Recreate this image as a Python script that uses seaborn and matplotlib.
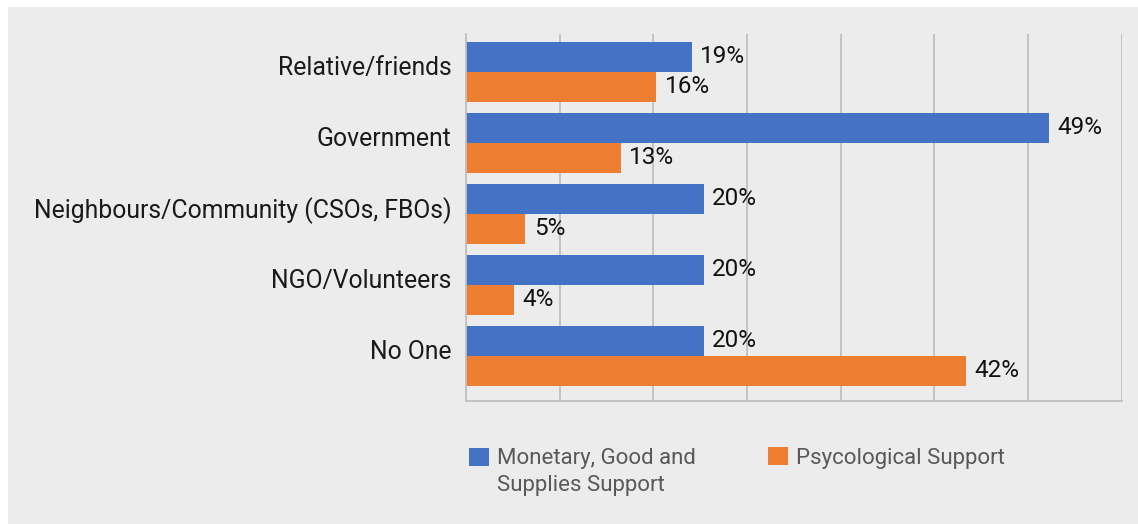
import matplotlib
matplotlib.use("Agg")
import matplotlib.pyplot as plt
import matplotlib.patches as mpatches
import matplotlib.transforms as mtransforms
from matplotlib.legend_handler import HandlerPatch
import numpy as np
import pandas as pd
import seaborn as sns

# Who people turned to for help, by type of support (% of respondents)
sources = ["Relative/friends", "Government", "Neighbours/Community (CSOs, FBOs)",
           "NGO/Volunteers", "No One"]
monetary = [19, 49, 20, 20, 20]
psychological = [16, 13, 5, 4, 42]
series_names = ["Monetary, Good and\nSupplies Support", "Psycological Support"]
colors = ["#4472C4", "#ED7D31"]

df = pd.DataFrame({
    "source": sources * 2,
    "value": monetary + psychological,
    "type": [series_names[0]] * len(sources) + [series_names[1]] * len(sources),
})

sns.set_theme(style="white")
plt.rcParams["font.family"] = ["Roboto", "DejaVu Sans"]

W, H = 1138, 524
fig = plt.figure(figsize=(W / 100, H / 100), dpi=100, facecolor="white")
bg = "#ECECEC"
fig.patches.append(mpatches.Rectangle((8 / W, 0), 1 - 8 / W, 1 - 7 / H,
                                      transform=fig.transFigure, facecolor=bg,
                                      edgecolor="none", zorder=-10))

ax = fig.add_axes([466 / W, 1 - 401 / H, (1121.5 - 466) / W, (401 - 34) / H])
ax.set_facecolor(bg)

sns.barplot(data=df, y="source", x="value", hue="type", orient="h",
            palette=colors, width=0.845, saturation=1, ax=ax, legend=False,
            order=sources, hue_order=series_names, edgecolor="none", linewidth=0)

for cont in ax.containers:
    ax.bar_label(cont, fmt="%g%%", padding=6, fontsize=17.5, color="#111111")

xmax = 55.1
ax.set_xlim(0, xmax)
ax.set_ylim(4.634, -0.535)
ax.set_xticks(np.linspace(0, xmax, 8))
ax.set_xticklabels([])
ax.tick_params(axis="x", length=0)
ax.tick_params(axis="y", length=0, pad=10.5, labelsize=17.8, labelcolor="#1a1a1a")
# category names sit slightly above the centre of their bar pair
lift = mtransforms.ScaledTranslation(0, 6 / 100, fig.dpi_scale_trans)
for lab in ax.get_yticklabels():
    lab.set_transform(lab.get_transform() + lift)
ax.grid(axis="x", color="#BFBFBF", linewidth=1.3)
ax.set_axisbelow(True)
ax.set_xlabel("")
ax.set_ylabel("")
for side in ["top", "right"]:
    ax.spines[side].set_visible(False)
for side in ["left", "bottom"]:
    ax.spines[side].set_color("#BFBFBF")
    ax.spines[side].set_linewidth(1.3)


def top_square(legend, orig_handle, xdescent, ydescent, width, height, fontsize):
    # square aligned with the first line of a two-line label
    return mpatches.Rectangle((-xdescent, -ydescent + 11.2), width, height)


leg_kw = dict(loc="upper left", frameon=False, fontsize=16, handlelength=0.9,
              handleheight=0.9, handletextpad=0.35, borderpad=0, borderaxespad=0)
leg1 = fig.legend([mpatches.Patch(facecolor=colors[0], edgecolor="none")],
                  [series_names[0]], bbox_to_anchor=(469 / W, 1 - 448 / H),
                  handler_map={mpatches.Patch: HandlerPatch(patch_func=top_square)},
                  **leg_kw)
leg2 = fig.legend([mpatches.Patch(facecolor=colors[1], edgecolor="none")],
                  [series_names[1]], bbox_to_anchor=(768 / W, 1 - 447 / H),
                  **leg_kw)
for leg in (leg1, leg2):
    for t in leg.get_texts():
        t.set_color("#595959")
        t.set_linespacing(1.4)

fig.savefig("out.png", dpi=100, facecolor="white")
